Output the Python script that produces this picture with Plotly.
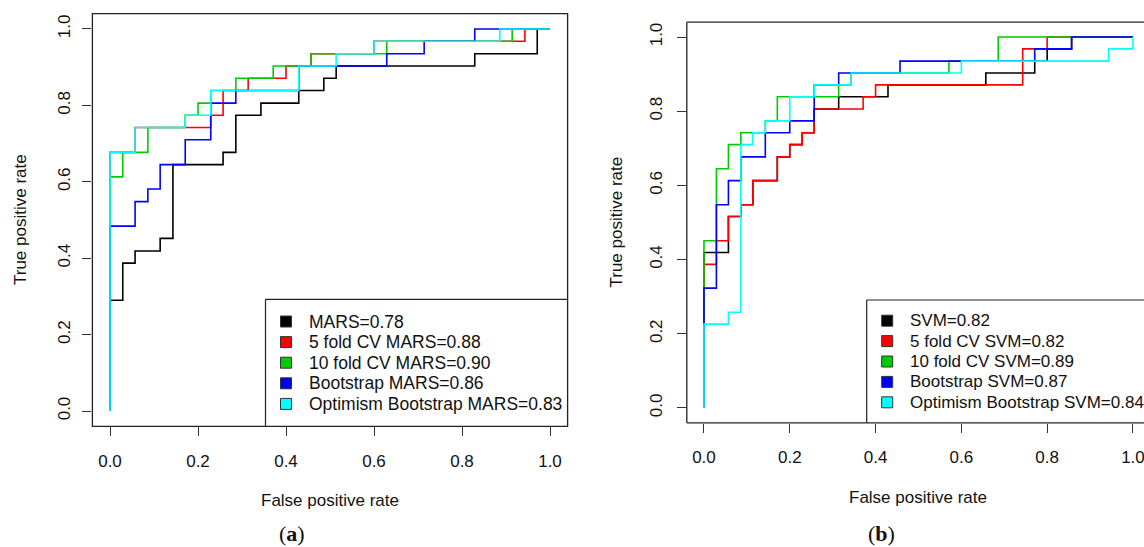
import plotly.graph_objects as go

# ---------------- data ----------------
# (a) MARS panel: ROC step points (false positive rate, true positive rate)
mars_fpr = [0, 0.029, 0.057, 0.114, 0.143, 0.257, 0.286, 0.343, 0.429, 0.486, 0.514, 0.829, 0.971, 1.0]
mars_tpr = [0, 0.290, 0.387, 0.419, 0.452, 0.645, 0.677, 0.774, 0.806, 0.839, 0.871, 0.903, 0.935, 1.0]
cv5_mars_fpr = [0, 0.057, 0.229, 0.257, 0.314, 0.400, 0.457, 0.600, 0.943, 1.0]
cv5_mars_tpr = [0, 0.677, 0.742, 0.774, 0.839, 0.871, 0.903, 0.935, 0.968, 1.0]
cv10_mars_fpr = [0, 0.029, 0.086, 0.171, 0.200, 0.229, 0.286, 0.371, 0.457, 0.629, 0.914, 1.0]
cv10_mars_tpr = [0, 0.613, 0.677, 0.742, 0.774, 0.806, 0.839, 0.871, 0.903, 0.935, 0.968, 1.0]
boot_mars_fpr = [0, 0.057, 0.086, 0.114, 0.171, 0.229, 0.286, 0.429, 0.629, 0.714, 0.829, 1.0]
boot_mars_tpr = [0, 0.484, 0.548, 0.581, 0.645, 0.710, 0.806, 0.839, 0.903, 0.935, 0.968, 1.0]
opt_mars_fpr = [0, 0.057, 0.171, 0.229, 0.429, 0.514, 0.600, 0.886, 1.0]
opt_mars_tpr = [0, 0.677, 0.742, 0.774, 0.839, 0.903, 0.935, 0.968, 1.0]

# (b) SVM panel
svm_fpr = [0, 0.057, 0.086, 0.114, 0.171, 0.200, 0.229, 0.257, 0.314, 0.429, 0.657, 0.771, 0.800, 0.857, 1.0]
svm_tpr = [0, 0.419, 0.516, 0.548, 0.613, 0.677, 0.710, 0.742, 0.806, 0.839, 0.871, 0.903, 0.935, 0.968, 1.0]
cv5_svm_fpr = [0, 0.029, 0.057, 0.086, 0.114, 0.171, 0.200, 0.229, 0.257, 0.371, 0.400, 0.743, 0.800, 1.0]
cv5_svm_tpr = [0, 0.387, 0.451, 0.516, 0.548, 0.613, 0.677, 0.710, 0.742, 0.806, 0.839, 0.871, 0.968, 1.0]
cv10_svm_fpr = [0, 0.029, 0.057, 0.086, 0.143, 0.171, 0.314, 0.343, 0.571, 0.686, 1.0]
cv10_svm_tpr = [0, 0.451, 0.645, 0.710, 0.742, 0.774, 0.839, 0.871, 0.903, 0.935, 1.0]
boot_svm_fpr = [0, 0.029, 0.057, 0.086, 0.143, 0.200, 0.257, 0.314, 0.457, 0.771, 0.857, 1.0]
boot_svm_tpr = [0, 0.323, 0.548, 0.613, 0.677, 0.742, 0.774, 0.871, 0.903, 0.935, 0.968, 1.0]
opt_svm_fpr = [0, 0.057, 0.086, 0.114, 0.143, 0.200, 0.257, 0.343, 0.600, 0.943, 1.0, 1.0]
opt_svm_tpr = [0, 0.226, 0.258, 0.710, 0.742, 0.774, 0.839, 0.871, 0.903, 0.935, 0.968, 1.0]

mars_names = ["MARS", "5 fold CV MARS", "10 fold CV MARS", "Bootstrap MARS", "Optimism Bootstrap MARS"]
mars_auc = [0.78, 0.88, 0.90, 0.86, 0.83]
svm_names = ["SVM", "5 fold CV SVM", "10 fold CV SVM", "Bootstrap SVM", "Optimism Bootstrap SVM"]
svm_auc = [0.82, 0.82, 0.89, 0.87, 0.84]

tick_vals = [0.0, 0.2, 0.4, 0.6, 0.8, 1.0]
tick_text = ["0.0", "0.2", "0.4", "0.6", "0.8", "1.0"]
x_title = "False positive rate"
y_title = "True positive rate"
panel_labels = ["(<b>a</b>)", "(<b>b</b>)"]

colors = ["#000000", "#FF0000", "#00CD00", "#0000FF", "#00FFFF"]

# ---------------- layout helpers ----------------
W, H = 1144, 547
def px(x):
    return x / W
def py(y):
    return 1 - y / H

FONT = "Liberation Sans, Arial, sans-serif"
TXT = "#111111"
EDGE = "#222222"

fig = go.Figure()

left_series = [(mars_fpr, mars_tpr), (cv5_mars_fpr, cv5_mars_tpr), (cv10_mars_fpr, cv10_mars_tpr),
               (boot_mars_fpr, boot_mars_tpr), (opt_mars_fpr, opt_mars_tpr)]
right_series = [(svm_fpr, svm_tpr), (cv5_svm_fpr, cv5_svm_tpr), (cv10_svm_fpr, cv10_svm_tpr),
                (boot_svm_fpr, boot_svm_tpr), (opt_svm_fpr, opt_svm_tpr)]

for (fx, ty), c, n in zip(left_series, colors, mars_names):
    fig.add_trace(go.Scatter(x=fx, y=ty, mode="lines", name=n, xaxis="x", yaxis="y",
                             line=dict(color=c, width=1.6, shape="vh"),
                             showlegend=False, hoverinfo="skip"))
for (fx, ty), c, n in zip(right_series, colors, svm_names):
    fig.add_trace(go.Scatter(x=fx, y=ty, mode="lines", name=n, xaxis="x2", yaxis="y2",
                             line=dict(color=c, width=1.6, shape="vh"),
                             showlegend=False, hoverinfo="skip"))

# pixel geometry of the two panels
L = dict(x0=92.4, x1=567.6, top=13.7, bot=426.3)
R = dict(x0=686.8, x1=1144.0, top=22.2, bot=422.8)
r_xmax = -0.04 + (R["x1"] - R["x0"]) / 429.0

axis_common = dict(showgrid=False, zeroline=False, showline=False, ticks="outside",
                   ticklen=9, tickwidth=1.2, tickcolor="#333333",
                   tickvals=tick_vals, ticktext=tick_text, ticklabeloverflow="allow",
                   tickfont=dict(family=FONT, size=17, color=TXT), fixedrange=True)

fig.update_layout(
    width=W, height=H, margin=dict(l=0, r=0, t=0, b=0),
    paper_bgcolor="white", plot_bgcolor="white",
    xaxis=dict(domain=[px(L["x0"]), px(L["x1"])], range=[-0.04, 1.04], anchor="y",
               ticklabelstandoff=10, **axis_common),
    yaxis=dict(domain=[py(L["bot"]), py(L["top"])], range=[-0.04, 1.04], anchor="x",
               tickangle=-90, ticklabelstandoff=6, **axis_common),
    xaxis2=dict(domain=[px(R["x0"]), 1.0], range=[-0.04, r_xmax], anchor="y2",
                ticklabelstandoff=10, **axis_common),
    yaxis2=dict(domain=[py(R["bot"]), py(R["top"])], range=[-0.04, 1.04], anchor="x2",
                tickangle=-90, ticklabelstandoff=8, **axis_common),
)

shapes = []
# left panel box
shapes.append(dict(type="rect", xref="x domain", yref="y domain", x0=0, x1=1, y0=0, y1=1,
                   line=dict(color=EDGE, width=1.3)))
# right panel box (right edge is cut off)
for (xa, ya, xb, yb) in [(0, 0, 0, 1), (0, 1, 1.02, 1), (0, 0, 1.02, 0)]:
    shapes.append(dict(type="line", xref="x2 domain", yref="y2 domain", x0=xa, x1=xb, y0=ya, y1=yb,
                       line=dict(color=EDGE, width=1.3)))

annotations = []

def legend(box_left, box_top, box_bot, box_right, first_row, step, names, aucs, fsize):
    shapes.append(dict(type="line", xref="paper", yref="paper", x0=px(box_left), x1=px(box_left),
                       y0=py(box_bot), y1=py(box_top), line=dict(color=EDGE, width=1.2)))
    shapes.append(dict(type="line", xref="paper", yref="paper", x0=px(box_left), x1=px(box_right),
                       y0=py(box_top), y1=py(box_top), line=dict(color=EDGE, width=1.2)))
    for i, (n, a, c) in enumerate(zip(names, aucs, colors)):
        yc = first_row + i * step
        shapes.append(dict(type="rect", xref="paper", yref="paper",
                           x0=px(box_left + 15), x1=px(box_left + 26),
                           y0=py(yc + 5.5), y1=py(yc - 5.5),
                           fillcolor=c, line=dict(color="#333333", width=1)))
        annotations.append(dict(xref="paper", yref="paper", x=px(box_left + 41.5), y=py(yc),
                                text=f"{n}={a:.2f}", showarrow=False, xanchor="left", yanchor="middle",
                                font=dict(family=FONT, size=fsize, color=TXT)))

legend(265.5, 299.3, L["bot"], L["x1"], 321.5, 20.6, mars_names, mars_auc, 17.5)
legend(866.7, 300.0, R["bot"], 1150, 320.7, 20.4, svm_names, svm_auc, 17)

# axis titles and panel labels
annotations += [
    dict(xref="paper", yref="paper", x=px((L["x0"] + L["x1"]) / 2), y=py(500), text=x_title,
         showarrow=False, xanchor="center", yanchor="middle", font=dict(family=FONT, size=17, color=TXT)),
    dict(xref="paper", yref="paper", x=px(918), y=py(497), text=x_title,
         showarrow=False, xanchor="center", yanchor="middle", font=dict(family=FONT, size=17, color=TXT)),
    dict(xref="paper", yref="paper", x=px(20), y=py((L["top"] + L["bot"]) / 2), text=y_title, textangle=-90,
         showarrow=False, xanchor="center", yanchor="middle", font=dict(family=FONT, size=17, color=TXT)),
    dict(xref="paper", yref="paper", x=px(616), y=py((R["top"] + R["bot"]) / 2), text=y_title, textangle=-90,
         showarrow=False, xanchor="center", yanchor="middle", font=dict(family=FONT, size=17, color=TXT)),
    dict(xref="paper", yref="paper", x=px(292), y=py(533), text=panel_labels[0],
         showarrow=False, xanchor="center", yanchor="middle",
         font=dict(family="Liberation Serif, DejaVu Serif, serif", size=22, color=TXT)),
    dict(xref="paper", yref="paper", x=px(881), y=py(533), text=panel_labels[1],
         showarrow=False, xanchor="center", yanchor="middle",
         font=dict(family="Liberation Serif, DejaVu Serif, serif", size=22, color=TXT)),
]

fig.update_layout(shapes=shapes, annotations=annotations)
fig.write_html("out.html", config={"displayModeBar": False},
               post_script="document.body.style.margin='0';document.body.style.overflow='hidden';")
